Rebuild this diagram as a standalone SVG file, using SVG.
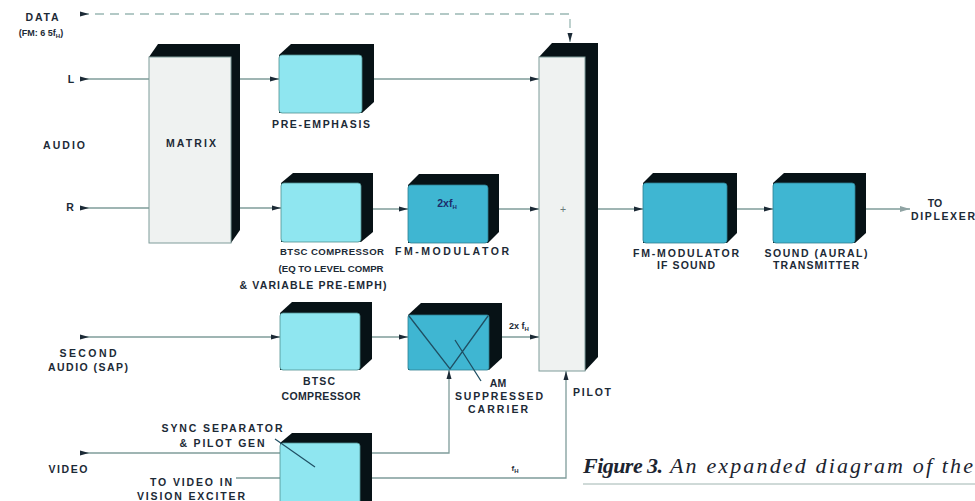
<svg xmlns="http://www.w3.org/2000/svg" width="975" height="501" viewBox="0 0 975 501">
<defs>
<style>
.t{font-family:"Liberation Sans",Arial,sans-serif;font-weight:bold;font-size:10.5px;fill:#1c2a36;text-anchor:middle}
.n{font-size:9.6px}
.s{font-size:6px}
.ln{fill:none;stroke:#7f9c9a;stroke-width:1.3}
.dash{stroke-dasharray:9 6;stroke:#9bb8b4}
.sh{fill:#071216}
.lt{fill:#8fe6f0;stroke:#4f8f8f;stroke-width:0.8}
.dk{fill:#3fb6d2;stroke:#2e7f90;stroke-width:0.8}
.gr{fill:#eff2f1;stroke:#7f9c9a;stroke-width:1}
.cap{font-family:"Liberation Serif","Times New Roman",serif;font-style:italic;font-size:22px;fill:#1c2430}
</style>
<marker id="ar" markerWidth="9" markerHeight="6" refX="9" refY="3" orient="auto" markerUnits="userSpaceOnUse"><path d="M0,0.5 L9,3 L0,5.5 Z" fill="#1c2a36"/></marker>
<marker id="tl" markerWidth="9" markerHeight="6" refX="0" refY="3" orient="auto" markerUnits="userSpaceOnUse"><path d="M0,0.5 L9,3 L0,5.5 Z" fill="#1c2a36"/></marker>
<marker id="ao" markerWidth="10" markerHeight="7" refX="10" refY="3.5" orient="auto" markerUnits="userSpaceOnUse"><path d="M0,0.5 L10,3.5 L0,6.5 Z" fill="#8fa3a3"/></marker>
</defs>
<rect width="975" height="501" fill="#ffffff"/>

<g id="connectors">
<path class="ln dash" d="M80,14 H570 V42" marker-start="url(#tl)" marker-end="url(#ar)"/>
<path class="ln" d="M80,79 H149" marker-start="url(#tl)"/>
<path class="ln" d="M80,208 H149" marker-start="url(#tl)"/>
<path class="ln" d="M240,79 H279" marker-end="url(#ar)"/>
<path class="ln" d="M240,208 H281" marker-end="url(#ar)"/>
<path class="ln" d="M374,79 H539" marker-end="url(#ar)"/>
<path class="ln" d="M373,209 H408" marker-end="url(#ar)"/>
<path class="ln" d="M499,209 H539" marker-end="url(#ar)"/>
<path class="ln" d="M598,209 H643" marker-end="url(#ar)"/>
<path class="ln" d="M737,209 H773" marker-end="url(#ar)"/>
<path class="ln" d="M866,209 H910" marker-end="url(#ao)"/>
<path class="ln" d="M80,337 H280" marker-start="url(#tl)" marker-end="url(#ar)"/>
<path class="ln" d="M372,337 H408" marker-end="url(#ar)"/>
<path class="ln" d="M502,337 H539" marker-end="url(#ar)"/>
<path class="ln" d="M80,453 H280" marker-start="url(#tl)"/>
<path class="ln" d="M236,478 H280"/>
<path class="ln" d="M372,453 H449 V370" marker-end="url(#ar)"/>
<path class="ln" d="M372,478 H566 V371" marker-end="url(#ar)"/>
</g>

<g id="matrix">
<polygon class="sh" points="149,57 158,44 240,44 240,230 231,243 149,243"/>
<rect class="gr" x="149" y="57" width="82" height="186"/>
<text class="t" x="191" y="147" textLength="50">MATRIX</text>
</g>

<g id="pre-emphasis">
<polygon class="sh" points="279,55 291,44 374,44 374,102 362,113 279,113"/>
<rect class="lt" x="279" y="55" width="83" height="58" rx="3"/>
<text class="t" x="321" y="128" textLength="98">PRE-EMPHASIS</text>
</g>

<g id="btsc-compressor">
<polygon class="sh" points="281,183 293,173 373,173 373,232 361,242 281,242"/>
<rect class="lt" x="281" y="183" width="80" height="59" rx="3"/>
<text class="t n" x="332" y="255" textLength="104">BTSC COMPRESSOR</text>
<text class="t n" x="331" y="272" textLength="105">(EQ TO LEVEL COMPR</text>
<text class="t" x="313" y="289" textLength="147">&amp; VARIABLE PRE-EMPH)</text>
</g>

<g id="fm-modulator">
<polygon class="sh" points="408,185 419,174 499,174 499,232 488,243 408,243"/>
<rect class="dk" x="408" y="185" width="80" height="58" rx="3"/>
<text class="t" x="447" y="207" style="fill:#1d2c6a">2xf<tspan class="s" dy="2">H</tspan></text>
<text class="t" x="452" y="255" textLength="114">FM-MODULATOR</text>
</g>

<g id="combiner">
<polygon class="sh" points="539,57 552,43 598,43 598,357 585,371 539,371"/>
<rect class="gr" x="539" y="57" width="46" height="314"/>
<text class="t" x="563" y="213" style="font-weight:normal;fill:#6a7a7a">+</text>
</g>

<g id="fm-modulator-if">
<polygon class="sh" points="643,183 653,173 737,173 737,233 727,243 643,243"/>
<rect class="dk" x="643" y="183" width="84" height="60" rx="3"/>
<text class="t" x="686" y="257" textLength="106">FM-MODULATOR</text>
<text class="t" x="686" y="269" textLength="58">IF SOUND</text>
</g>

<g id="transmitter">
<polygon class="sh" points="773,183 784,173 866,173 866,233 855,243 773,243"/>
<rect class="dk" x="773" y="183" width="82" height="60" rx="3"/>
<text class="t" x="816" y="257" textLength="103">SOUND (AURAL)</text>
<text class="t" x="816" y="269" textLength="86">TRANSMITTER</text>
</g>

<g id="btsc-compressor-sap">
<polygon class="sh" points="280,313 292,302 372,302 372,359 360,370 280,370"/>
<rect class="lt" x="280" y="313" width="80" height="57" rx="3"/>
<text class="t" x="319" y="385" textLength="32">BTSC</text>
<text class="t" x="321" y="400" textLength="79">COMPRESSOR</text>
</g>

<g id="am-modulator">
<polygon class="sh" points="408,315 421,303 502,303 502,358 489,370 408,370"/>
<rect class="dk" x="408" y="315" width="81" height="55" rx="2"/>
<path d="M409,316 L450,369 L488,316 M455,340 L481,381" fill="none" stroke="#1f4f63" stroke-width="1.3"/>
<text class="t" x="498" y="387">AM</text>
<text class="t" x="499" y="400" textLength="88">SUPPRESSED</text>
<text class="t" x="498" y="413" textLength="60">CARRIER</text>
</g>

<g id="sync-separator">
<polygon class="sh" points="280,443 292,433 372,433 372,501 280,501"/>
<rect class="lt" x="280" y="443" width="80" height="70" rx="3"/>
<path d="M275,439 L315,467" fill="none" stroke="#1f4f63" stroke-width="1.2"/>
<text class="t" x="222" y="432" textLength="121">SYNC SEPARATOR</text>
<text class="t" x="222" y="447" textLength="85">&amp; PILOT GEN</text>
</g>

<g id="labels">
<text class="t" x="42" y="21" textLength="33">DATA</text>
<text class="t" x="41" y="36" style="font-size:9px">(FM: 6 5f<tspan class="s" dy="1.5">H</tspan><tspan dy="-1.5">)</tspan></text>
<text class="t" x="71" y="83">L</text>
<text class="t" x="64" y="149" textLength="42">AUDIO</text>
<text class="t" x="70" y="211">R</text>
<text class="t" x="935" y="207">TO</text>
<text class="t" x="943" y="220" textLength="64">DIPLEXER</text>
<text class="t" x="88" y="357" textLength="57">SECOND</text>
<text class="t" x="88" y="371" textLength="80">AUDIO (SAP)</text>
<text class="t" x="519" y="329" style="font-size:9px">2x f<tspan class="s" dy="2">H</tspan></text>
<text class="t" x="592" y="396" textLength="38">PILOT</text>
<text class="t" x="515" y="471" style="font-size:8px">f<tspan class="s" dy="2">H</tspan></text>
<text class="t" x="68" y="473" textLength="39">VIDEO</text>
<text class="t" x="191" y="486" textLength="82">TO VIDEO IN</text>
<text class="t" x="191" y="500" textLength="108">VISION EXCITER</text>
</g>

<g id="caption">
<text class="cap" x="583" y="473" style="font-weight:bold" textLength="80">Figure 3.</text>
<text class="cap" x="670" y="473" textLength="303">An expanded diagram of the</text>
<line x1="583" y1="484" x2="975" y2="484" stroke="#9fb4b0" stroke-width="1"/>
</g>
</svg>
